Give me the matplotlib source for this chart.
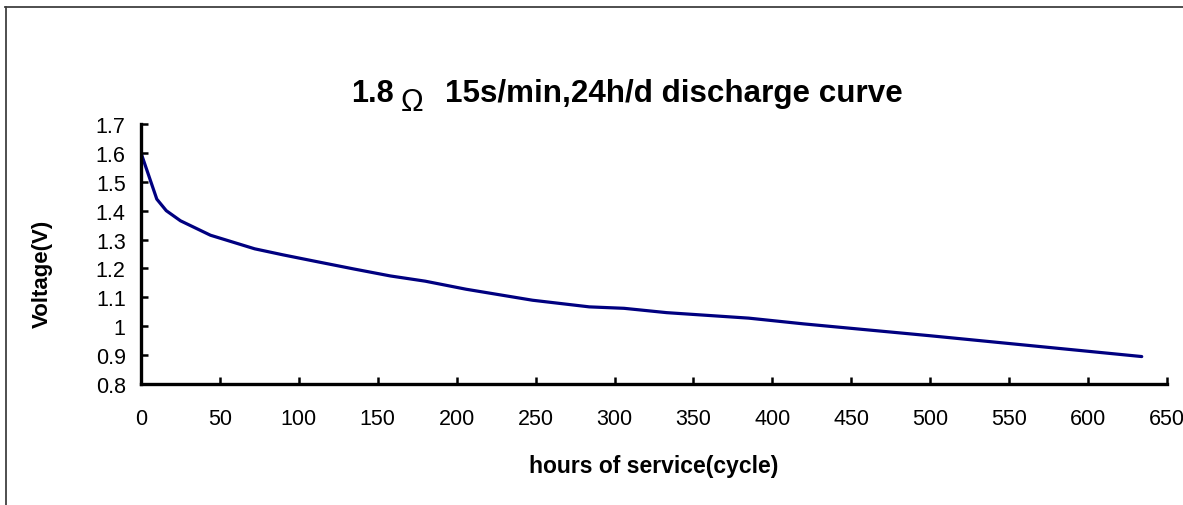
import matplotlib
matplotlib.use("Agg")
import matplotlib.pyplot as plt
from matplotlib.lines import Line2D

# Data (hours of service vs. voltage)
hours = [0, 10, 16, 25, 44, 72, 90, 111, 135, 158, 180, 206, 248, 284, 306, 333, 385, 420, 500, 634]
voltage = [1.60, 1.44, 1.40, 1.365, 1.315, 1.268, 1.247, 1.224, 1.198, 1.174, 1.156, 1.128, 1.090, 1.067, 1.062, 1.047, 1.028, 1.008, 0.967, 0.895]
x_ticks = list(range(0, 651, 50))
y_ticks = [0.8, 0.9, 1.0, 1.1, 1.2, 1.3, 1.4, 1.5, 1.6, 1.7]
y_tick_labels = ["0.8", "0.9", "1", "1.1", "1.2", "1.3", "1.4", "1.5", "1.6", "1.7"]

W, H = 1183, 506
plt.rcParams['font.family'] = ['Liberation Sans', 'DejaVu Sans']
fig = plt.figure(figsize=(W / 100, H / 100), dpi=100)
fig.patch.set_facecolor('white')

def fx(px):
    return px / W

def fy(py):
    return 1 - py / H

ax = fig.add_axes([fx(141), fy(385), fx(1167) - fx(141), fy(125) - fy(385)])
ax.plot(hours, voltage, color='#000080', linewidth=2.3, solid_capstyle='round')
ax.set_xlim(0, 650)
ax.set_ylim(0.8, 1.7)
ax.set_xticks(x_ticks)
ax.set_yticks(y_ticks)
ax.set_yticklabels(y_tick_labels)
for s in ['top', 'right']:
    ax.spines[s].set_visible(False)
for s in ['left', 'bottom']:
    ax.spines[s].set_linewidth(2.4)
    ax.spines[s].set_color('black')
ax.tick_params(axis='both', direction='in', length=5, width=1.8, labelsize=15.5, colors='black')
ax.tick_params(axis='x', pad=17)
ax.tick_params(axis='y', pad=11)
ax.set_facecolor('white')

# Title pieces
fig.text(fx(351), fy(102), "1.8", fontsize=22, fontweight='bold', ha='left', va='baseline')
fig.text(fx(401), fy(111), "\u03a9", fontsize=22, fontweight='normal', ha='left', va='baseline')
fig.text(fx(445), fy(102), "15s/min,24h/d discharge curve", fontsize=22.6, fontweight='bold', ha='left', va='baseline')

# Axis labels
fig.text(fx(654), fy(473), "hours of service(cycle)", fontsize=16.5, fontweight='bold', ha='center', va='baseline')
fig.text(fx(42), fy(274), "Voltage(V)", fontsize=16, fontweight='bold', ha='center', va='center', rotation=90)

# Frame lines (top and left)
fig.add_artist(Line2D([fx(5), 1.0], [fy(7.5), fy(7.5)], transform=fig.transFigure, color='#404040', linewidth=1.3))
fig.add_artist(Line2D([fx(5.5), fx(5.5)], [fy(7.5), 0.0], transform=fig.transFigure, color='#404040', linewidth=1.3))

fig.savefig("out.png", dpi=100, facecolor='white')
